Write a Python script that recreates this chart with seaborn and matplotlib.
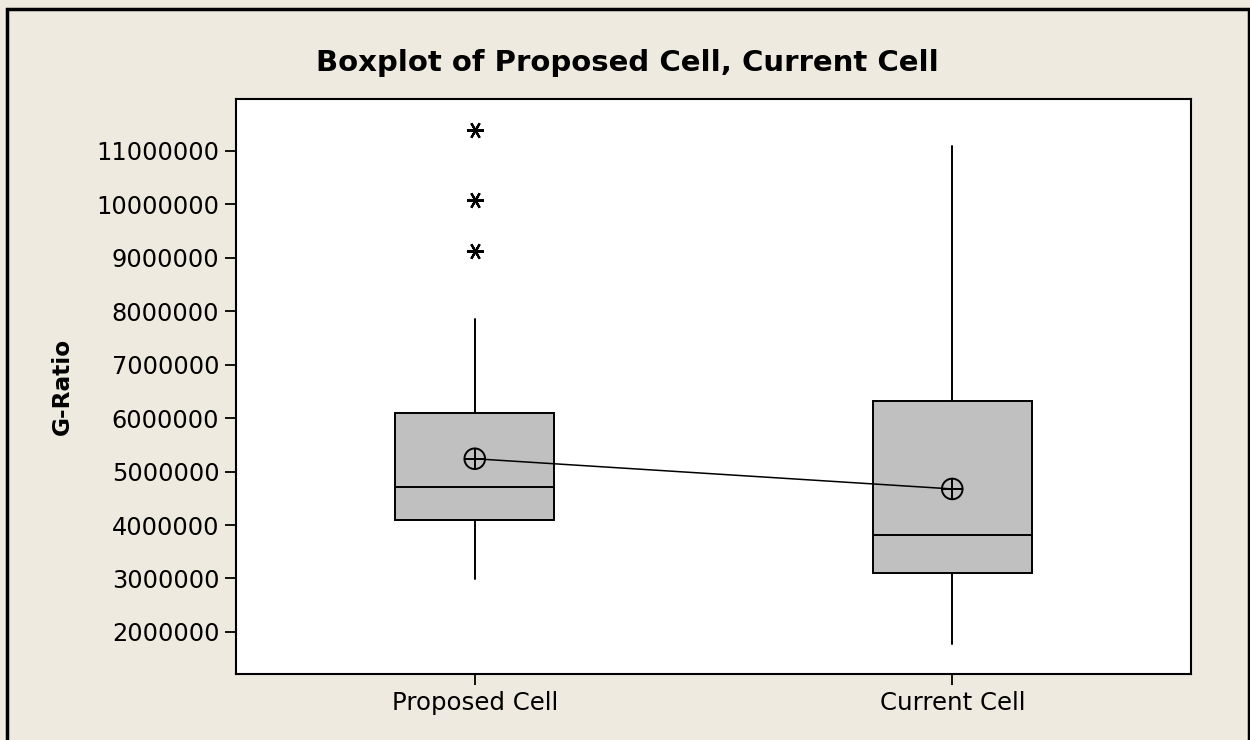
import matplotlib
matplotlib.use("Agg")
import matplotlib.pyplot as plt
from matplotlib.patches import Rectangle
import seaborn as sns
import numpy as np

# ---- data ----
categories = ["Proposed Cell", "Current Cell"]
q1 = [4095000, 3100000]
median = [4720000, 3810000]
q3 = [6090000, 6320000]
whisker_low = [2990000, 1770000]
whisker_high = [7850000, 11090000]
means = [5240000, 4675000]
outliers_proposed = [9130000, 10080000, 11390000]
outliers_current = []
y_ticks = [2000000, 3000000, 4000000, 5000000, 6000000, 7000000,
           8000000, 9000000, 10000000, 11000000]

BG = "#EEEAE0"

sns.set_theme(style="ticks")
plt.rcParams["font.family"] = ["DejaVu Sans"]
plt.rcParams["text.color"] = "black"
plt.rcParams["axes.labelcolor"] = "black"

fig = plt.figure(figsize=(12.5, 7.4), dpi=100, facecolor=BG)
ax = fig.add_axes([236 / 1250, 1 - 674 / 740, (1191 - 236) / 1250, (674 - 99) / 740])
ax.set_facecolor("white")

fliers = [outliers_proposed, outliers_current]
stats = []
for i, c in enumerate(categories):
    stats.append(dict(label=c, q1=q1[i], med=median[i], q3=q3[i],
                      whislo=whisker_low[i], whishi=whisker_high[i],
                      fliers=fliers[i], mean=means[i]))

ax.bxp(stats, positions=[0, 1], widths=0.333, patch_artist=True,
       showcaps=False, showfliers=True, showmeans=False,
       boxprops=dict(facecolor="#C0C0C0", edgecolor="black", linewidth=1.4),
       medianprops=dict(color="black", linewidth=1.4),
       whiskerprops=dict(color="black", linewidth=1.4),
       flierprops=dict(marker=(6, 2, 90), markersize=12, markeredgecolor="black",
                       markeredgewidth=1.6, linestyle="none"))

# mean connect line and mean symbols
sns.lineplot(x=[0, 1], y=means, ax=ax, color="black", linewidth=1.1, zorder=4)
sns.scatterplot(x=[0, 1], y=means, ax=ax, marker="o", s=220,
                facecolor="none", edgecolor="black", linewidth=1.4, zorder=5)
sns.scatterplot(x=[0, 1], y=means, ax=ax, marker="+", s=220,
                color="black", linewidth=1.4, zorder=5)

ax.set_xlim(-0.5, 1.5)
ax.set_ylim(1213000, 11970000)
ax.set_xticks([0, 1])
ax.set_xticklabels(categories)
ax.set_yticks(y_ticks)
ax.set_yticklabels([str(v) for v in y_ticks])
ax.tick_params(axis="both", colors="black", direction="out",
               length=8, width=1.3)
ax.tick_params(axis="y", labelsize=17.3, pad=4)
ax.tick_params(axis="x", labelsize=17.6, pad=4)
for s in ax.spines.values():
    s.set_visible(True)
    s.set_color("black")
    s.set_linewidth(1.5)
ax.grid(False)

ax.set_ylabel("G-Ratio", fontsize=16.7, fontweight="bold", color="black")
ax.yaxis.set_label_coords(-0.1696, 0.5)
fig.text(0.5016, 1 - 63 / 740, "Boxplot of Proposed Cell, Current Cell",
         ha="center", va="center", fontsize=21, fontweight="bold", color="black")

# outer frame of the graph window
fig.patches.append(Rectangle((7 / 1250, -0.1), (1249 - 7) / 1250, 1.1 - 9 / 740,
                             transform=fig.transFigure, fill=False,
                             edgecolor="black", linewidth=2.5))

fig.savefig("out.png", dpi=100, facecolor=BG)
